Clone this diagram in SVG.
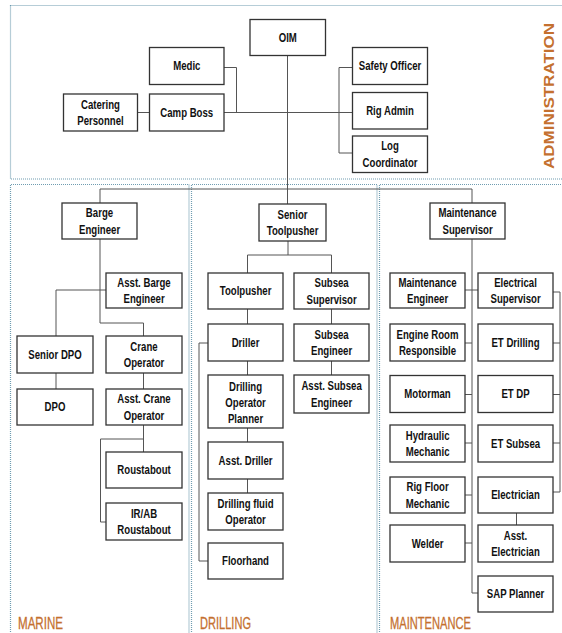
<svg xmlns="http://www.w3.org/2000/svg" width="562" height="633" viewBox="0 0 562 633">
<style>
.bg{fill:#fff}
.zone{fill:none;stroke:#6f9cb0;stroke-width:1.2;stroke-dasharray:1 1}
.box{fill:#fff;stroke:#333;stroke-width:1.3}
.t{font-family:"Liberation Sans",Arial,sans-serif;font-weight:bold;font-size:13px;fill:#111;text-anchor:middle;transform-box:fill-box;transform-origin:center;transform:scaleX(0.74)}
.lbl{font-family:"Liberation Sans",Arial,sans-serif;font-size:17px;fill:#c4702f;stroke:#c4702f;stroke-width:0.3}
.adm{font-family:"Liberation Sans",Arial,sans-serif;font-weight:bold;font-size:15px;fill:#c4702f;text-anchor:middle}
.conn path{fill:none;stroke:#555;stroke-width:1}
</style>
<rect class="bg" x="0" y="0" width="562" height="633"/>
<g id="zones">
<rect class="zone" x="10.5" y="5.5" width="560" height="173.5"/>
<path class="zone" d="M10.5 640 V184.5 H189 V640"/>
<path class="zone" d="M191.5 640 V184.5 H377 V640"/>
<path class="zone" d="M379.5 640 V184.5 H570"/>
<text class="lbl" x="18" y="629" textLength="45" lengthAdjust="spacingAndGlyphs">MARINE</text>
<text class="lbl" x="200" y="629" textLength="51" lengthAdjust="spacingAndGlyphs">DRILLING</text>
<text class="lbl" x="390" y="629" textLength="81" lengthAdjust="spacingAndGlyphs">MAINTENANCE</text>
<text class="adm" transform="translate(554 96) rotate(-90)" x="0" y="0" textLength="146" lengthAdjust="spacingAndGlyphs">ADMINISTRATION</text>
</g>
<g class="conn" id="connectors">
<path d="M287.5 55.5 V204"/>
<path d="M224 112.5 H352.5"/>
<path d="M137.5 112.5 H149.5"/>
<path d="M224 67.5 H236.5 V112.5"/>
<path d="M352.5 67.5 H339 V153 H352.5"/>
<path d="M100 203 V189 H472 V203"/>
<path d="M100 239 V323 H143.5 V336"/>
<path d="M56 336 V290 H106"/>
<path d="M56 373 V389"/>
<path d="M143.5 373 V389"/>
<path d="M143.5 425 V452"/>
<path d="M143.5 439 H100.5 V522 H106"/>
<path d="M288 241 V255"/>
<path d="M247.5 273 V255 H331.5 V273"/>
<path d="M247.5 309 V324 M247.5 361 V375 M247.5 428 V442 M247.5 479 V493"/>
<path d="M331.5 309 V324 M331.5 361 V375"/>
<path d="M208 343 H199 V561 H208"/>
<path d="M472 239 V593 H478"/>
<path d="M465 290 H478 M465 343 H472 M465 394.5 H472 M465 443 H472 M465 495 H472 M465 543 H472"/>
<path d="M553 292 H560 V492 H553 M553 343 H560 M553 394.5 H560 M553 443 H560"/>
<path d="M516.5 513 V525"/>
</g>
<g id="oim"><rect class="box" x="250" y="19.5" width="75.5" height="36"/><text class="t" x="287.75" y="42">OIM</text></g>
<g id="medic"><rect class="box" x="149.5" y="47.5" width="74.5" height="37"/><text class="t" x="186.75" y="70.5">Medic</text></g>
<g id="catering"><rect class="box" x="63.5" y="94" width="74" height="37"/><text class="t" x="100.5" y="108.8">Catering</text><text class="t" x="100.5" y="125.3">Personnel</text></g>
<g id="campboss"><rect class="box" x="149.5" y="94" width="74.5" height="37"/><text class="t" x="186.75" y="117">Camp Boss</text></g>
<g id="safety"><rect class="box" x="352.5" y="47.5" width="75" height="37"/><text class="t" x="390" y="70.5">Safety Officer</text></g>
<g id="rigadmin"><rect class="box" x="352.5" y="92.5" width="75" height="36.5"/><text class="t" x="390" y="115.25">Rig Admin</text></g>
<g id="logcoord"><rect class="box" x="352.5" y="136" width="75" height="36.5"/><text class="t" x="390" y="150.5">Log</text><text class="t" x="390" y="167">Coordinator</text></g>

<g id="barge"><rect class="box" x="62" y="203" width="75" height="36"/><text class="t" x="99.5" y="217.3">Barge</text><text class="t" x="99.5" y="233.8">Engineer</text></g>
<g id="asstbarge"><rect class="box" x="106" y="273" width="76" height="35"/><text class="t" x="144" y="286.8">Asst. Barge</text><text class="t" x="144" y="303.3">Engineer</text></g>
<g id="seniordpo"><rect class="box" x="17" y="336" width="76" height="37"/><text class="t" x="55" y="359">Senior DPO</text></g>
<g id="crane"><rect class="box" x="106" y="336" width="76" height="37"/><text class="t" x="144" y="350.8">Crane</text><text class="t" x="144" y="367.3">Operator</text></g>
<g id="dpo"><rect class="box" x="17" y="389" width="76" height="36"/><text class="t" x="55" y="411.5">DPO</text></g>
<g id="asstcrane"><rect class="box" x="106" y="389" width="76" height="36"/><text class="t" x="144" y="403.3">Asst. Crane</text><text class="t" x="144" y="419.8">Operator</text></g>
<g id="roustabout"><rect class="box" x="106" y="452" width="76" height="36"/><text class="t" x="144" y="474.5">Roustabout</text></g>
<g id="irab"><rect class="box" x="106" y="503" width="76" height="37"/><text class="t" x="144" y="517.8">IR/AB</text><text class="t" x="144" y="534.3">Roustabout</text></g>

<g id="seniortp"><rect class="box" x="259" y="204" width="67" height="37"/><text class="t" x="292.5" y="218.8">Senior</text><text class="t" x="292.5" y="235.3">Toolpusher</text></g>
<g id="toolpusher"><rect class="box" x="208" y="273" width="75" height="36"/><text class="t" x="245.5" y="295.5">Toolpusher</text></g>
<g id="subseasup"><rect class="box" x="294" y="273" width="75" height="36"/><text class="t" x="331.5" y="287.3">Subsea</text><text class="t" x="331.5" y="303.8">Supervisor</text></g>
<g id="driller"><rect class="box" x="208" y="324" width="75" height="37"/><text class="t" x="245.5" y="347">Driller</text></g>
<g id="subseaeng"><rect class="box" x="294" y="324" width="75" height="37"/><text class="t" x="331.5" y="338.8">Subsea</text><text class="t" x="331.5" y="355.3">Engineer</text></g>
<g id="dop"><rect class="box" x="208" y="375" width="75" height="53"/><text class="t" x="245.5" y="391">Drilling</text><text class="t" x="245.5" y="407">Operator</text><text class="t" x="245.5" y="423">Planner</text></g>
<g id="asstsubsea"><rect class="box" x="294" y="375" width="75" height="38"/><text class="t" x="331.5" y="390.3">Asst. Subsea</text><text class="t" x="331.5" y="406.8">Engineer</text></g>
<g id="asstdriller"><rect class="box" x="208" y="442" width="75" height="37"/><text class="t" x="245.5" y="465">Asst. Driller</text></g>
<g id="fluidop"><rect class="box" x="208" y="493" width="75" height="37"/><text class="t" x="245.5" y="507.8">Drilling fluid</text><text class="t" x="245.5" y="524.3">Operator</text></g>
<g id="floorhand"><rect class="box" x="208" y="543" width="75" height="36"/><text class="t" x="245.5" y="565.5">Floorhand</text></g>

<g id="maintsup"><rect class="box" x="430" y="203" width="75" height="36"/><text class="t" x="467.5" y="217.3">Maintenance</text><text class="t" x="467.5" y="233.8">Supervisor</text></g>
<g id="mainteng"><rect class="box" x="390" y="273" width="75" height="35"/><text class="t" x="427.5" y="286.8">Maintenance</text><text class="t" x="427.5" y="303.3">Engineer</text></g>
<g id="elecsup"><rect class="box" x="478" y="273" width="75" height="35"/><text class="t" x="515.5" y="286.8">Electrical</text><text class="t" x="515.5" y="303.3">Supervisor</text></g>
<g id="engineroom"><rect class="box" x="390" y="324" width="75" height="37"/><text class="t" x="427.5" y="338.8">Engine Room</text><text class="t" x="427.5" y="355.3">Responsible</text></g>
<g id="etdrilling"><rect class="box" x="478" y="324" width="75" height="37"/><text class="t" x="515.5" y="347">ET Drilling</text></g>
<g id="motorman"><rect class="box" x="390" y="375.5" width="75" height="37"/><text class="t" x="427.5" y="398.5">Motorman</text></g>
<g id="etdp"><rect class="box" x="478" y="375.5" width="75" height="37"/><text class="t" x="515.5" y="398.5">ET DP</text></g>
<g id="hydraulic"><rect class="box" x="390" y="425" width="75" height="37"/><text class="t" x="427.5" y="439.8">Hydraulic</text><text class="t" x="427.5" y="456.3">Mechanic</text></g>
<g id="etsubsea"><rect class="box" x="478" y="425" width="75" height="37"/><text class="t" x="515.5" y="448">ET Subsea</text></g>
<g id="rigfloor"><rect class="box" x="390" y="477" width="75" height="36"/><text class="t" x="427.5" y="491.3">Rig Floor</text><text class="t" x="427.5" y="507.8">Mechanic</text></g>
<g id="electrician"><rect class="box" x="478" y="477" width="75" height="36"/><text class="t" x="515.5" y="499.5">Electrician</text></g>
<g id="welder"><rect class="box" x="390" y="525" width="75" height="37"/><text class="t" x="427.5" y="548">Welder</text></g>
<g id="asstelec"><rect class="box" x="478" y="525" width="75" height="37"/><text class="t" x="515.5" y="539.8">Asst.</text><text class="t" x="515.5" y="556.3">Electrician</text></g>
<g id="sapplanner"><rect class="box" x="478" y="576" width="75" height="36"/><text class="t" x="515.5" y="598.5">SAP Planner</text></g>
</svg>
